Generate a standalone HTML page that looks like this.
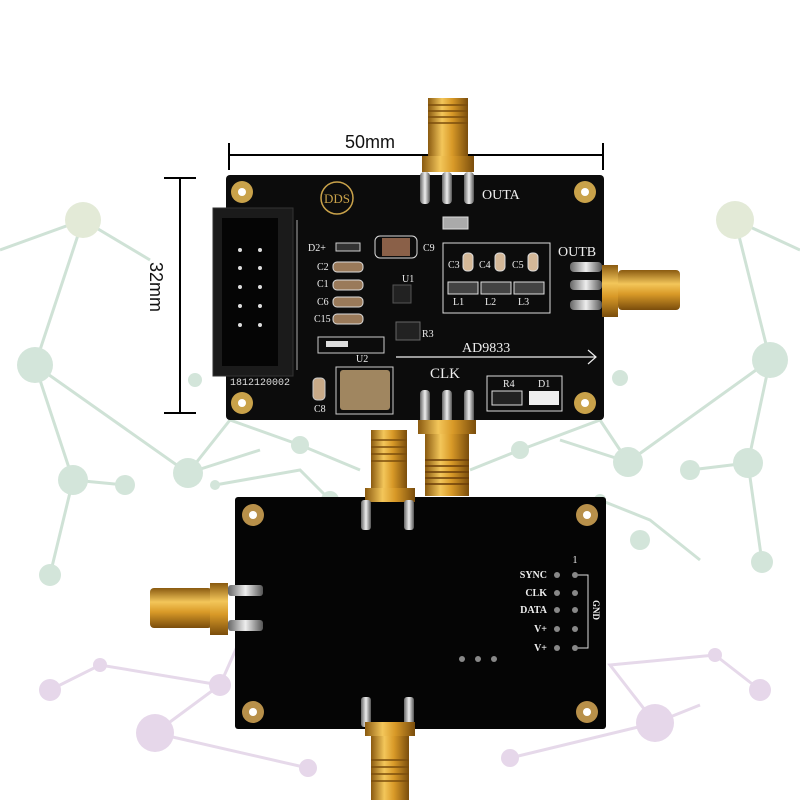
<!DOCTYPE html>
<html><head><style>html,body{margin:0;padding:0;background:#fff}svg{display:block}</style></head><body>
<svg width="800" height="800" viewBox="0 0 800 800" xmlns="http://www.w3.org/2000/svg" font-family="Liberation Serif, serif">
<defs>
<linearGradient id="gold" x1="0" x2="1"><stop offset="0" stop-color="#8a5a10"/><stop offset="0.35" stop-color="#f3c65a"/><stop offset="0.6" stop-color="#d99a28"/><stop offset="1" stop-color="#7a4d0c"/></linearGradient>
<linearGradient id="goldv" x1="0" x2="0" y1="0" y2="1"><stop offset="0" stop-color="#8a5a10"/><stop offset="0.35" stop-color="#f3c65a"/><stop offset="0.6" stop-color="#d99a28"/><stop offset="1" stop-color="#7a4d0c"/></linearGradient>
<linearGradient id="silver" x1="0" x2="1"><stop offset="0" stop-color="#666"/><stop offset="0.5" stop-color="#eee"/><stop offset="1" stop-color="#555"/></linearGradient>
</defs>
<!-- background network -->
<g stroke="#cfe2d6" stroke-width="3" fill="none">
<polyline points="0,250 83,220 35,365 73,480 50,575"/>
<polyline points="35,365 188,473 260,450"/>
<polyline points="73,480 125,485"/>
<polyline points="83,220 150,260"/>
<polyline points="800,250 735,220 770,360 748,463 762,562"/>
<polyline points="770,360 628,462 560,440"/>
<polyline points="748,463 690,470"/>
<polyline points="188,473 230,420 300,445 360,470"/>
<polyline points="628,462 600,420 520,450 470,470"/>
<polyline points="215,485 300,470 330,500"/>
<polyline points="600,500 650,520 700,560"/>
</g>
<g fill="#d3e5da">
<circle cx="35" cy="365" r="18"/><circle cx="770" cy="360" r="18"/>
<circle cx="73" cy="480" r="15"/><circle cx="188" cy="473" r="15"/>
<circle cx="628" cy="462" r="15"/><circle cx="748" cy="463" r="15"/>
<circle cx="125" cy="485" r="10"/><circle cx="690" cy="470" r="10"/>
<circle cx="50" cy="575" r="11"/><circle cx="762" cy="562" r="11"/>
<circle cx="300" cy="445" r="9"/><circle cx="520" cy="450" r="9"/>
<circle cx="330" cy="500" r="9"/><circle cx="620" cy="378" r="8"/>
<circle cx="195" cy="380" r="7"/><circle cx="215" cy="485" r="5"/>
<circle cx="640" cy="540" r="10"/><circle cx="600" cy="500" r="6"/>
</g>
<circle cx="83" cy="220" r="18" fill="#e3ead7"/><circle cx="735" cy="220" r="19" fill="#e3ead7"/>
<g stroke="#e6d9ea" stroke-width="3" fill="none">
<polyline points="50,690 100,665 220,685 155,733 308,768"/>
<polyline points="220,685 240,640"/>
<polyline points="760,690 715,655 610,665 655,723 510,758"/>
<polyline points="655,723 700,705"/>
</g>
<g fill="#e6d7ea">
<circle cx="50" cy="690" r="11"/><circle cx="100" cy="665" r="7"/><circle cx="220" cy="685" r="11"/>
<circle cx="155" cy="733" r="19"/><circle cx="308" cy="768" r="9"/>
<circle cx="760" cy="690" r="11"/><circle cx="715" cy="655" r="7"/>
<circle cx="655" cy="723" r="19"/><circle cx="510" cy="758" r="9"/>
</g>
<!-- dimension lines -->
<g stroke="#000" stroke-width="2">
<line x1="229" y1="155" x2="603" y2="155"/><line x1="229" y1="143" x2="229" y2="170"/><line x1="603" y1="143" x2="603" y2="170"/>
<line x1="180" y1="178" x2="180" y2="413"/><line x1="164" y1="178" x2="196" y2="178"/><line x1="164" y1="413" x2="196" y2="413"/>
</g>
<text x="345" y="148" font-family="Liberation Sans, sans-serif" font-size="18" fill="#111">50mm</text>
<text x="0" y="0" font-family="Liberation Sans, sans-serif" font-size="18" fill="#111" transform="translate(150,262) rotate(90)">32mm</text>

<!-- top board -->
<rect x="226" y="175" width="378" height="245" rx="4" fill="#0c0c0c"/>
<!-- top SMA -->
<rect x="428" y="98" width="40" height="58" fill="url(#gold)"/>
<g stroke="#7a4d0c" stroke-width="1.5"><line x1="428" y1="105" x2="468" y2="105"/><line x1="428" y1="111" x2="468" y2="111"/><line x1="428" y1="117" x2="468" y2="117"/><line x1="428" y1="123" x2="468" y2="123"/></g>
<rect x="422" y="156" width="52" height="16" fill="url(#gold)"/>
<rect x="420" y="172" width="10" height="32" rx="4" fill="url(#silver)"/><rect x="442" y="172" width="10" height="32" rx="4" fill="url(#silver)"/><rect x="464" y="172" width="10" height="32" rx="4" fill="url(#silver)"/>
<!-- OUTB SMA -->
<rect x="570" y="262" width="32" height="10" rx="4" fill="url(#silver)"/><rect x="570" y="280" width="32" height="10" rx="4" fill="url(#silver)"/><rect x="570" y="300" width="32" height="10" rx="4" fill="url(#silver)"/>
<rect x="602" y="265" width="16" height="52" fill="url(#goldv)"/>
<rect x="618" y="270" width="62" height="40" rx="4" fill="url(#goldv)"/>
<!-- CLK SMA -->
<rect x="420" y="390" width="10" height="35" rx="4" fill="url(#silver)"/><rect x="442" y="390" width="10" height="35" rx="4" fill="url(#silver)"/><rect x="464" y="390" width="10" height="35" rx="4" fill="url(#silver)"/>
<rect x="418" y="420" width="58" height="14" fill="url(#gold)"/>
<rect x="425" y="434" width="44" height="62" fill="url(#gold)"/>
<g stroke="#6a3d08" stroke-width="1.5"><line x1="425" y1="460" x2="469" y2="460"/><line x1="425" y1="466" x2="469" y2="466"/><line x1="425" y1="472" x2="469" y2="472"/><line x1="425" y1="478" x2="469" y2="478"/><line x1="425" y1="484" x2="469" y2="484"/></g>
<!-- mounting holes -->
<g fill="#c9a24a"><circle cx="242" cy="192" r="11"/><circle cx="585" cy="192" r="11"/><circle cx="242" cy="403" r="11"/><circle cx="585" cy="403" r="11"/></g>
<g fill="#fff"><circle cx="242" cy="192" r="4"/><circle cx="585" cy="192" r="4"/><circle cx="242" cy="403" r="4"/><circle cx="585" cy="403" r="4"/></g>
<!-- header -->
<rect x="213" y="208" width="80" height="168" fill="#1b1b1b" stroke="#333"/>
<rect x="222" y="218" width="56" height="148" fill="#050505"/>
<g fill="#ddd"><circle cx="240" cy="250" r="2"/><circle cx="260" cy="250" r="2"/><circle cx="240" cy="268" r="2"/><circle cx="260" cy="268" r="2"/><circle cx="240" cy="287" r="2"/><circle cx="260" cy="287" r="2"/><circle cx="240" cy="306" r="2"/><circle cx="260" cy="306" r="2"/><circle cx="240" cy="325" r="2"/><circle cx="260" cy="325" r="2"/></g>
<line x1="297" y1="220" x2="297" y2="370" stroke="#aaa" stroke-width="1"/>
<text x="230" y="385" font-family="Liberation Mono, monospace" font-size="10" fill="#ddd">1812120002</text>
<!-- DDS logo -->
<circle cx="337" cy="198" r="16" fill="none" stroke="#c9a24a" stroke-width="1.5"/>
<text x="337" y="203" text-anchor="middle" font-size="13" fill="#c9a24a">DDS</text>
<g fill="#eee" font-size="10">
<text x="482" y="199" font-size="14">OUTA</text>
<text x="558" y="256" font-size="14">OUTB</text>
<text x="430" y="378" font-size="15">CLK</text>
<text x="462" y="352" font-size="14">AD9833</text>
<text x="308" y="251">D2+</text><text x="423" y="251">C9</text>
<text x="317" y="270">C2</text><text x="317" y="287">C1</text><text x="317" y="305">C6</text><text x="314" y="322">C15</text>
<text x="402" y="282">U1</text><text x="422" y="337">R3</text>
<text x="448" y="268">C3</text><text x="479" y="268">C4</text><text x="512" y="268">C5</text>
<text x="453" y="305">L1</text><text x="485" y="305">L2</text><text x="518" y="305">L3</text>
<text x="503" y="387">R4</text><text x="538" y="387">D1</text>
<text x="314" y="412">C8</text><text x="356" y="362">U2</text>
</g>
<line x1="396" y1="357" x2="596" y2="357" stroke="#eee" stroke-width="1.2"/>
<polyline points="588,350 596,357 588,364" fill="none" stroke="#eee" stroke-width="1.2"/>
<!-- components -->
<rect x="375" y="236" width="42" height="22" rx="5" fill="none" stroke="#ddd"/><rect x="382" y="238" width="28" height="18" fill="#8a6048"/>
<rect x="336" y="243" width="24" height="8" fill="#333" stroke="#ccc"/>
<g fill="#9a7a5a" stroke="#ddd"><rect x="333" y="262" width="30" height="10" rx="4"/><rect x="333" y="280" width="30" height="10" rx="4"/><rect x="333" y="297" width="30" height="10" rx="4"/><rect x="333" y="314" width="30" height="10" rx="4"/></g>
<rect x="393" y="285" width="18" height="18" fill="#222" stroke="#555"/>
<rect x="443" y="243" width="107" height="70" fill="none" stroke="#ddd"/>
<rect x="443" y="217" width="25" height="12" fill="#aaa" stroke="#ddd"/>
<g fill="#d4b898" stroke="#ddd"><rect x="463" y="253" width="10" height="18" rx="4"/><rect x="495" y="253" width="10" height="18" rx="4"/><rect x="528" y="253" width="10" height="18" rx="4"/></g>
<g fill="#444" stroke="#ddd"><rect x="448" y="282" width="30" height="12"/><rect x="481" y="282" width="30" height="12"/><rect x="514" y="282" width="30" height="12"/></g>
<rect x="396" y="322" width="24" height="18" fill="#222" stroke="#666"/>
<rect x="318" y="337" width="66" height="16" fill="none" stroke="#ccc"/><rect x="326" y="341" width="22" height="6" fill="#ddd"/>
<rect x="336" y="367" width="57" height="47" fill="none" stroke="#ccc"/><rect x="340" y="370" width="50" height="40" rx="3" fill="#a08660"/>
<rect x="313" y="378" width="12" height="22" rx="4" fill="#c8aa88" stroke="#ccc"/>
<rect x="487" y="376" width="75" height="35" fill="none" stroke="#ddd"/>
<rect x="492" y="391" width="30" height="14" fill="#222" stroke="#ddd"/><rect x="529" y="391" width="30" height="14" fill="#eee"/>

<!-- bottom board -->
<rect x="235" y="497" width="371" height="232" rx="3" fill="#050505"/>
<rect x="371" y="430" width="36" height="58" fill="url(#gold)"/>
<g stroke="#7a4d0c" stroke-width="1.5"><line x1="371" y1="440" x2="407" y2="440"/><line x1="371" y1="447" x2="407" y2="447"/><line x1="371" y1="454" x2="407" y2="454"/><line x1="371" y1="461" x2="407" y2="461"/></g>
<rect x="365" y="488" width="50" height="14" fill="url(#gold)"/>
<rect x="361" y="500" width="10" height="30" rx="3" fill="url(#silver)"/><rect x="404" y="500" width="10" height="30" rx="3" fill="url(#silver)"/>
<rect x="150" y="588" width="62" height="40" rx="4" fill="url(#goldv)"/>
<rect x="210" y="583" width="18" height="52" fill="url(#goldv)"/>
<rect x="228" y="585" width="35" height="11" rx="3" fill="url(#silver)"/><rect x="228" y="620" width="35" height="11" rx="3" fill="url(#silver)"/>
<rect x="361" y="697" width="10" height="30" rx="3" fill="url(#silver)"/><rect x="404" y="697" width="10" height="30" rx="3" fill="url(#silver)"/>
<rect x="365" y="722" width="50" height="14" fill="url(#gold)"/>
<rect x="371" y="736" width="38" height="64" fill="url(#gold)"/>
<g stroke="#7a4d0c" stroke-width="1.5"><line x1="371" y1="760" x2="409" y2="760"/><line x1="371" y1="767" x2="409" y2="767"/><line x1="371" y1="774" x2="409" y2="774"/><line x1="371" y1="781" x2="409" y2="781"/></g>
<g fill="#b8904a"><circle cx="253" cy="515" r="11"/><circle cx="587" cy="515" r="11"/><circle cx="253" cy="712" r="11"/><circle cx="587" cy="712" r="11"/></g>
<g fill="#fff"><circle cx="253" cy="515" r="4"/><circle cx="587" cy="515" r="4"/><circle cx="253" cy="712" r="4"/><circle cx="587" cy="712" r="4"/></g>
<g fill="#eee" font-size="10" font-weight="bold" text-anchor="end">
<text x="547" y="578">SYNC</text><text x="547" y="596">CLK</text><text x="547" y="613">DATA</text><text x="547" y="632">V+</text><text x="547" y="651">V+</text>
</g>
<text x="575" y="563" font-size="10" fill="#eee" text-anchor="middle">1</text>
<g fill="#888"><circle cx="557" cy="575" r="3"/><circle cx="575" cy="575" r="3"/><circle cx="557" cy="593" r="3"/><circle cx="575" cy="593" r="3"/><circle cx="557" cy="610" r="3"/><circle cx="575" cy="610" r="3"/><circle cx="557" cy="629" r="3"/><circle cx="575" cy="629" r="3"/><circle cx="557" cy="648" r="3"/><circle cx="575" cy="648" r="3"/><circle cx="462" cy="659" r="3"/><circle cx="478" cy="659" r="3"/><circle cx="494" cy="659" r="3"/></g>
<polyline points="578,575 588,575 588,648 578,648" fill="none" stroke="#ddd"/>
<text x="0" y="0" font-size="9" font-weight="bold" fill="#eee" transform="translate(593,600) rotate(90)">GND</text>
</svg>
</body></html>
